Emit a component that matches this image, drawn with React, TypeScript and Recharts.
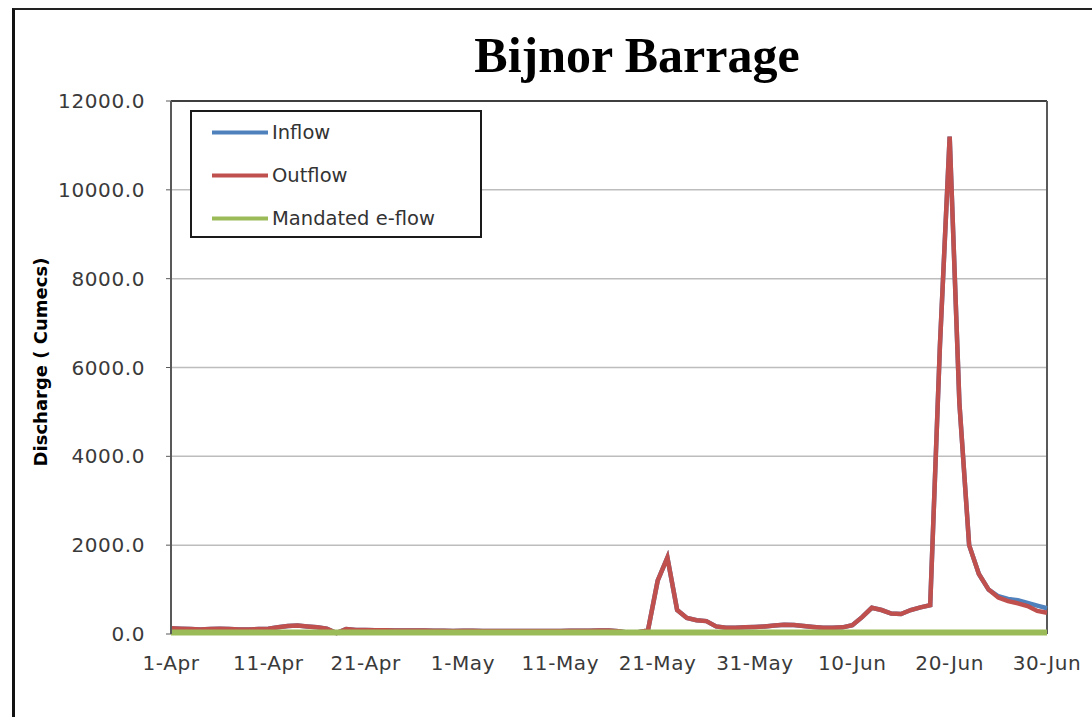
import { LineChart, Line, XAxis, YAxis, CartesianGrid, Legend, ReferenceLine } from "recharts";

// 1-Apr .. 30-Jun, one value per day (cumecs)
const outflow = [
  130, 120, 110, 100, 110, 120, 110, 100, 100, 110,
  120, 150, 180, 190, 170, 150, 120, 20, 110, 90,
  90, 85, 85, 80, 80, 80, 80, 75, 75, 70,
  75, 75, 70, 70, 70, 70, 70, 70, 70, 70,
  70, 75, 75, 75, 80, 80, 60, 30, 40, 80,
  1200, 1720, 540, 360, 310, 290, 170, 140, 140, 150,
  160, 170, 190, 210, 200, 180, 160, 140, 140, 150,
  200, 380, 590, 540, 460, 450, 540, 600, 650, 6500,
  11200, 5200, 2000, 1350, 1000, 820, 740, 690, 630, 520,
  480,
];

const inflow = [
  130, 120, 110, 100, 110, 120, 110, 100, 100, 110,
  120, 150, 180, 190, 170, 150, 120, 20, 110, 90,
  90, 85, 85, 80, 80, 80, 80, 75, 75, 70,
  75, 75, 70, 70, 70, 70, 70, 70, 70, 70,
  70, 75, 75, 75, 80, 80, 60, 30, 40, 80,
  1200, 1720, 540, 360, 310, 290, 170, 140, 140, 150,
  160, 170, 190, 210, 200, 180, 160, 140, 140, 150,
  200, 380, 590, 540, 460, 450, 540, 600, 650, 6500,
  11200, 5200, 2000, 1350, 1000, 850, 790, 760, 700, 640,
  580,
];

const eflow = [
  35, 35, 35, 35, 35, 35, 35, 35, 35, 35,
  35, 35, 35, 35, 35, 35, 35, 35, 35, 35,
  35, 35, 35, 35, 35, 35, 35, 35, 35, 35,
  35, 35, 35, 35, 35, 35, 35, 35, 35, 35,
  35, 35, 35, 35, 35, 35, 35, 35, 35, 35,
  35, 35, 35, 35, 35, 35, 35, 35, 35, 35,
  35, 35, 35, 35, 35, 35, 35, 35, 35, 35,
  35, 35, 35, 35, 35, 35, 35, 35, 35, 35,
  35, 35, 35, 35, 35, 35, 35, 35, 35, 35,
  35,
];

const seriesNames = ["Inflow", "Outflow", "Mandated e-flow"];
const xTicks = [0, 10, 20, 30, 40, 50, 60, 70, 80, 90];
const xTickLabels = ["1-Apr", "11-Apr", "21-Apr", "1-May", "11-May", "21-May", "31-May", "10-Jun", "20-Jun", "30-Jun"];
const yTicks = [0, 2000, 4000, 6000, 8000, 10000, 12000];

const data = inflow.map((v, i) => ({ day: i, inflow: v, outflow: outflow[i], eflow: eflow[i] }));

const axisFont = { fontFamily: "DejaVu Sans", fontSize: 20, fill: "#3a3a3a", letterSpacing: 0.6 };

const legendContent = (props: any) => {
  const items = [...(props.payload || [])].sort((a: any, b: any) => seriesNames.indexOf(a.value) - seriesNames.indexOf(b.value));
  return (
    <div style={{ position: "relative", width: "100%", height: "100%" }}>
      {items.map((p: any, i: number) => (
        <div key={p.value} style={{ position: "absolute", left: 20, top: 20 + i * 43, display: "flex", alignItems: "center", transform: "translateY(-50%)" }}>
          <div style={{ width: 56, height: 4, background: p.color }} />
          <span style={{ marginLeft: 4, fontFamily: "DejaVu Sans", fontSize: 19.5, color: "#333", whiteSpace: "nowrap" }}>{p.value}</span>
        </div>
      ))}
    </div>
  );
};

export default function App() {
  return (
    <div style={{ position: "fixed", left: 0, top: 0, width: 1092, height: 717, overflow: "hidden", background: "#fff" }}>
      <div style={{ position: "absolute", left: 12, top: 8, width: 1200, height: 800, borderLeft: "3px solid #111", borderTop: "2px solid #222" }} />
      <LineChart width={1092} height={717} data={data} margin={{ top: 101, right: 45, left: 91, bottom: 43 }}>
        <CartesianGrid horizontal={true} vertical={false} stroke="#bdbdbd" strokeWidth={1.5} />
        <XAxis
          dataKey="day"
          type="number"
          domain={[0, 90]}
          ticks={xTicks}
          tickFormatter={(v: number) => xTickLabels[xTicks.indexOf(v)]}
          height={40}
          axisLine={false}
          tickLine={false}
          tickSize={0}
          tickMargin={22}
          tick={axisFont}
          interval={0}
        />
        <YAxis
          domain={[0, 12000]}
          ticks={yTicks}
          tickFormatter={(v: number) => v.toFixed(1)}
          width={80}
          axisLine={{ stroke: "#595959", strokeWidth: 2 }}
          tickLine={{ stroke: "#595959" }}
          tickSize={5}
          tickMargin={21}
          tick={axisFont}
          interval={0}
        />
        <ReferenceLine y={12000} stroke="#3f3f3f" strokeWidth={2} />
        <ReferenceLine x={90} stroke="#595959" strokeWidth={2} />
        <Legend
          layout="vertical"
          align="center"
          verticalAlign="middle"
          content={legendContent}
          wrapperStyle={{ left: 190, top: 110, width: 292, height: 128, border: "2px solid #1a1a1a", background: "#fff", boxSizing: "border-box" }}
        />
        <Line type="linear" dataKey="inflow" name="Inflow" stroke="#4f81bd" strokeWidth={4.5} dot={false} activeDot={false} isAnimationActive={false} />
        <Line type="linear" dataKey="outflow" name="Outflow" stroke="#c0504d" strokeWidth={4.5} dot={false} activeDot={false} isAnimationActive={false} />
        <Line type="linear" dataKey="eflow" name="Mandated e-flow" stroke="#9bbb59" strokeWidth={6} dot={false} activeDot={false} isAnimationActive={false} />
      </LineChart>
      <svg width={1092} height={717} style={{ position: "absolute", left: 0, top: 0, pointerEvents: "none" }}>
        <text x={637} y={72} textAnchor="middle" fontFamily="Liberation Serif" fontWeight="bold" fontSize={50} fill="#000">
          Bijnor Barrage
        </text>
        <text x={40} y={362} textAnchor="middle" dominantBaseline="central" transform="rotate(-90 40 362)" fontFamily="DejaVu Sans" fontWeight="bold" fontSize={18} fill="#000">
          Discharge ( Cumecs)
        </text>
      </svg>
    </div>
  );
}
